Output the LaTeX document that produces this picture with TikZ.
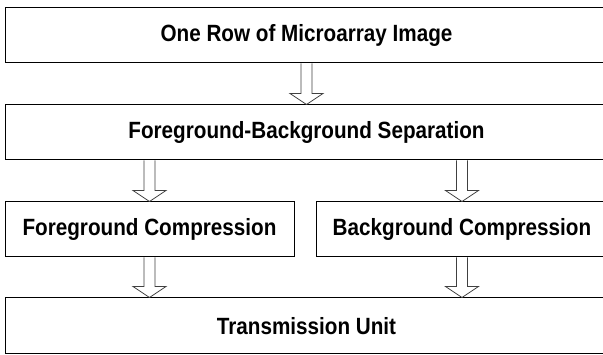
\documentclass[tikz,border=0pt]{standalone}
\usepackage{fontspec}
\setmainfont[FakeStretch=0.88]{Liberation Sans}
\usetikzlibrary{calc}

\tikzstyle{block}=[draw=black,line width=1pt,rectangle,inner sep=0pt,minimum height=55pt,font=\bfseries\fontsize{23.5}{26}\selectfont]
\tikzstyle{flow}=[draw=black!75,line width=0.8pt,fill=white]

% hollow block arrow, drawn at the x of #1 from #2 down to #3
\newcommand{\blockarrow}[3]{%
   \draw[flow] let \p0=(#1.center), \p1=(#2.south), \p2=(#3.north) in
      (\x0-5.5pt,\y1) -- (\x0-5.5pt,\y2+11pt) -- (\x0-16.5pt,\y2+11pt) -- (\x0,\y2)
      -- (\x0+16.5pt,\y2+11pt) -- (\x0+5.5pt,\y2+11pt) -- (\x0+5.5pt,\y1);
}

\begin{document}
\begin{tikzpicture}[x=1pt,y=1pt]

   \clip (0,0) rectangle (603,355);

% processing stages
   \node[block,minimum width=603pt] (row) at (306.5,319.5) {One Row of Microarray Image};
   \node[block,minimum width=603pt] (sep) at (306.5,222.5) {Foreground-Background Separation};
   \node[block,minimum width=289pt] (fg) at (149.5,125.5) {Foreground Compression};
   \node[block,minimum width=292pt] (bg) at (462,125.5) {Background Compression};
   \node[block,minimum width=603pt,minimum height=56pt] (tx) at (306.5,29) {Transmission Unit};

% arrows between stages
   \blockarrow{row}{row}{sep}
   \blockarrow{fg}{sep}{fg}
   \blockarrow{bg}{sep}{bg}
   \blockarrow{fg}{fg}{tx}
   \blockarrow{bg}{bg}{tx}

\end{tikzpicture}
\end{document}
